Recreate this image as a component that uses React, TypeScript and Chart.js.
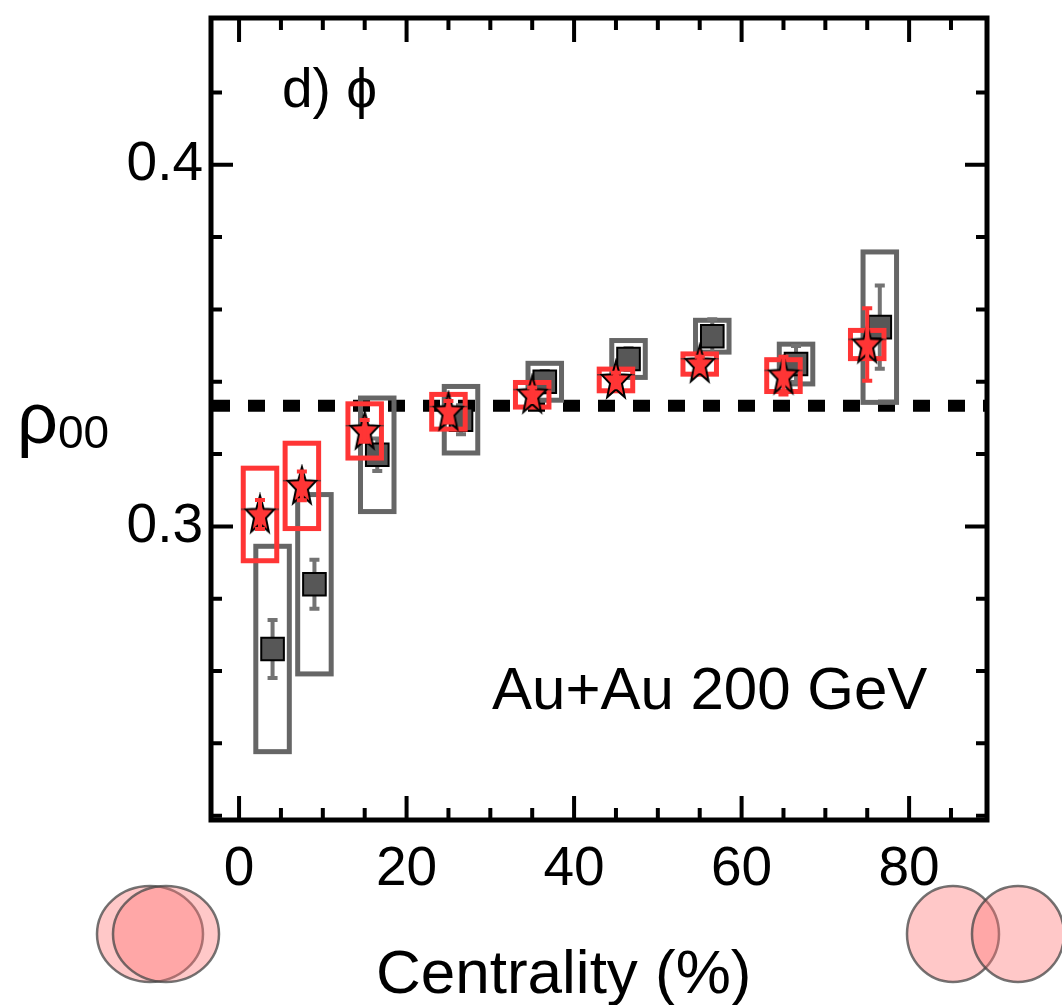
import React, { useEffect, useRef } from 'react';
import { Chart, registerables } from 'chart.js';

Chart.register(...registerables);

const FONT = '"Liberation Sans", Arial, Helvetica, sans-serif';

// new measurement (red stars), centrality bin centres in %
const binCenters = [2.5, 7.5, 15, 25, 35, 45, 55, 65, 75];
const rhoNew = [0.3033, 0.3112, 0.3264, 0.3317, 0.3364, 0.3405, 0.3449, 0.3417, 0.3503];
const rhoNewStat = [0.004, 0.004, 0.003, 0.003, 0.002, 0.002, 0.002, 0.0052, 0.0100];
const rhoNewSys = [0.0128, 0.0118, 0.0075, 0.0048, 0.0034, 0.0030, 0.0028, 0.0044, 0.0039];

// previous measurement (grey squares), drawn slightly shifted in centrality
const binCentersPrev = [4, 9, 16.5, 26.5, 36.5, 46.5, 56.5, 66.5, 76.5];
const rhoPrev = [0.2661, 0.2840, 0.3198, 0.3295, 0.3400, 0.3463, 0.3526, 0.3449, 0.3551];
const rhoPrevStat = [0.0080, 0.0068, 0.0045, 0.0040, 0.0030, 0.0030, 0.0047, 0.0050, 0.0115];
const rhoPrevSys = [0.0284, 0.0248, 0.0157, 0.0092, 0.0051, 0.0051, 0.0044, 0.0055, 0.0208];

const sysHalfWidth = 2; // width of the systematic boxes, in % centrality
const rhoRef = 1 / 3;

// axis ticks
const xLabelTicks = [0, 20, 40, 60, 80];
const xMinorTicks = [5, 10, 15, 25, 30, 35, 45, 50, 55, 65, 70, 75, 85];
const yLabelTicks = [0.3, 0.4];
const yMinorTicks = [0.22, 0.24, 0.26, 0.28, 0.32, 0.34, 0.36, 0.38, 0.42];

const RED = '#ff3535';
const GREY = '#666666';

function makeStar(): HTMLCanvasElement {
  const c = document.createElement('canvas');
  c.width = 44;
  c.height = 44;
  const g = c.getContext('2d')!;
  const cx = 22, cy = 23, rx = 15, ry = 20;
  g.strokeStyle = '#333';
  g.lineWidth = 1;
  g.beginPath();
  g.moveTo(3, cy - ry * 0.309);
  g.lineTo(41, cy - ry * 0.309);
  g.stroke();
  g.beginPath();
  for (let k = 0; k < 10; k++) {
    const a = -Math.PI / 2 + (k * Math.PI) / 5;
    const r = k % 2 === 0 ? 1 : 0.42;
    g.lineTo(cx + rx * r * Math.cos(a), cy + ry * r * Math.sin(a));
  }
  g.closePath();
  g.fillStyle = RED;
  g.fill();
  g.lineWidth = 2;
  g.strokeStyle = '#000';
  g.stroke();
  return c;
}

function sysBox(ctx: CanvasRenderingContext2D, x: any, y: any, c: number, v: number, s: number, color: string, lw: number) {
  const l = x.getPixelForValue(c - sysHalfWidth);
  const r = x.getPixelForValue(c + sysHalfWidth);
  const t = y.getPixelForValue(v + s);
  const b = y.getPixelForValue(v - s);
  ctx.strokeStyle = color;
  ctx.lineWidth = lw;
  ctx.strokeRect(l, t, r - l, b - t);
}

function statBar(ctx: CanvasRenderingContext2D, x: any, y: any, c: number, v: number, e: number, color: string) {
  const px = x.getPixelForValue(c);
  const t = y.getPixelForValue(v + e);
  const b = y.getPixelForValue(v - e);
  ctx.strokeStyle = color;
  ctx.lineWidth = 4;
  ctx.beginPath();
  ctx.moveTo(px, t);
  ctx.lineTo(px, b);
  ctx.moveTo(px - 5, t);
  ctx.lineTo(px + 5, t);
  ctx.moveTo(px - 5, b);
  ctx.lineTo(px + 5, b);
  ctx.stroke();
}

function ellipse(ctx: CanvasRenderingContext2D, cx: number, cy: number, rx: number, ry: number) {
  ctx.beginPath();
  ctx.ellipse(cx, cy, rx, ry, 0, 0, Math.PI * 2);
  ctx.fillStyle = 'rgba(255, 117, 117, 0.4)';
  ctx.fill();
  ctx.strokeStyle = 'rgba(70, 70, 70, 0.75)';
  ctx.lineWidth = 2.5;
  ctx.stroke();
}

const decorations = {
  id: 'decorations',
  beforeDatasetsDraw(chart: any) {
    const { ctx, chartArea: a, scales } = chart;
    const { x, y } = scales;
    ctx.save();
    // rho00 = 1/3 reference
    const yr = y.getPixelForValue(rhoRef);
    ctx.beginPath();
    ctx.setLineDash([17, 18]);
    ctx.lineDashOffset = -2;
    ctx.lineWidth = 12;
    ctx.strokeStyle = '#000';
    ctx.moveTo(a.left, yr);
    ctx.lineTo(a.right, yr);
    ctx.stroke();
    ctx.setLineDash([]);
    binCentersPrev.forEach((c, i) => sysBox(ctx, x, y, c, rhoPrev[i], rhoPrevSys[i], GREY, 5));
    binCentersPrev.forEach((c, i) => statBar(ctx, x, y, c, rhoPrev[i], rhoPrevStat[i], '#737373'));
    ctx.restore();
  },
  afterDatasetDraw(chart: any, args: any) {
    if (args.index !== 1) return;
    const { ctx, scales } = chart;
    ctx.save();
    binCenters.forEach((c, i) => sysBox(ctx, scales.x, scales.y, c, rhoNew[i], rhoNewSys[i], RED, 5));
    ctx.restore();
  },
  afterDatasetsDraw(chart: any) {
    const { ctx, scales } = chart;
    ctx.save();
    binCenters.forEach((c, i) => statBar(ctx, scales.x, scales.y, c, rhoNew[i], rhoNewStat[i], RED));
    ctx.restore();
  },
  afterDraw(chart: any) {
    const { ctx, chartArea: a, scales } = chart;
    const { x, y } = scales;
    ctx.save();
    // frame
    ctx.strokeStyle = '#000';
    ctx.lineWidth = 5;
    ctx.strokeRect(a.left, a.top, a.right - a.left, a.bottom - a.top);
    // inward ticks on all four sides
    ctx.lineWidth = 4;
    ctx.beginPath();
    const xt = (v: number, len: number) => {
      const px = x.getPixelForValue(v);
      ctx.moveTo(px, a.bottom);
      ctx.lineTo(px, a.bottom - len);
      ctx.moveTo(px, a.top);
      ctx.lineTo(px, a.top + len);
    };
    const yt = (v: number, len: number) => {
      const py = y.getPixelForValue(v);
      ctx.moveTo(a.left, py);
      ctx.lineTo(a.left + len, py);
      ctx.moveTo(a.right, py);
      ctx.lineTo(a.right - len, py);
    };
    xLabelTicks.forEach((v) => xt(v, 24));
    xMinorTicks.forEach((v) => xt(v, 12));
    yLabelTicks.forEach((v) => yt(v, 22));
    yMinorTicks.forEach((v) => yt(v, 11));
    ctx.stroke();

    // texts
    ctx.fillStyle = '#000';
    ctx.textBaseline = 'alphabetic';
    ctx.textAlign = 'left';
    ctx.font = `55px ${FONT}`;
    ctx.fillText('d) \u03d5', 282, 107);
    ctx.font = `60px ${FONT}`;
    ctx.fillText('Au+Au 200 GeV', 492, 709);
    ctx.font = `62px ${FONT}`;
    ctx.fillText('Centrality (%)', 376, 993);
    ctx.font = `72px ${FONT}`;
    ctx.fillText('\u03c1', 17, 443);
    ctx.font = `46px ${FONT}`;
    ctx.fillText('00', 58, 448);

    // collision sketches
    ellipse(ctx, 150, 934, 53, 48);
    ellipse(ctx, 166, 934, 53, 48);
    ellipse(ctx, 953, 934, 46, 48);
    ellipse(ctx, 1018, 934, 46, 48);
    ctx.restore();
  },
};

export default function App() {
  const canvasRef = useRef<HTMLCanvasElement>(null);
  const chartRef = useRef<Chart | null>(null);

  useEffect(() => {
    document.body.style.margin = '0';
    if (!canvasRef.current) return;
    if (chartRef.current) chartRef.current.destroy();

    const star = makeStar();

    chartRef.current = new Chart(canvasRef.current, {
      type: 'scatter',
      data: {
        datasets: [
          {
            label: 'new',
            data: binCenters.map((c, i) => ({ x: c, y: rhoNew[i] })),
            pointStyle: star as any,
            pointRadius: 14,
          },
          {
            label: 'prev',
            data: binCentersPrev.map((c, i) => ({ x: c, y: rhoPrev[i] })),
            pointStyle: 'rect',
            pointRadius: 16,
            backgroundColor: '#575757',
            borderColor: '#000',
            borderWidth: 2,
          },
        ],
      },
      options: {
        animation: false,
        responsive: false,
        layout: { padding: { top: 14, right: 75, left: 0, bottom: 0 } },
        plugins: {
          legend: { display: false },
          tooltip: { enabled: false },
        },
        scales: {
          x: {
            type: 'linear',
            min: -3.35,
            max: 89.3,
            grid: { display: false, drawTicks: false },
            border: { display: false },
            ticks: {
              color: '#000',
              font: { family: FONT, size: 55 },
              padding: 17,
              maxRotation: 0,
              autoSkip: false,
            },
            afterBuildTicks: (s: any) => {
              s.ticks = xLabelTicks.map((v) => ({ value: v }));
            },
            afterFit: (s: any) => {
              s.height = 185;
              s.paddingLeft = 0;
              s.paddingRight = 0;
            },
          },
          y: {
            type: 'linear',
            min: 0.2188,
            max: 0.4406,
            grid: { display: false, drawTicks: false },
            border: { display: false },
            ticks: {
              color: '#000',
              font: { family: FONT, size: 55 },
              padding: 8,
              autoSkip: false,
              callback: (v: any) => Number(v).toFixed(1),
            },
            afterBuildTicks: (s: any) => {
              s.ticks = yLabelTicks.map((v) => ({ value: v }));
            },
            afterFit: (s: any) => {
              s.width = 211;
              s.paddingTop = 0;
              s.paddingBottom = 0;
            },
          },
        },
      },
      plugins: [decorations],
    });

    return () => {
      if (chartRef.current) {
        chartRef.current.destroy();
        chartRef.current = null;
      }
    };
  }, []);

  return (
    <div style={{ width: 1062, height: 1005 }}>
      <canvas ref={canvasRef} width={1062} height={1005}></canvas>
    </div>
  );
}
